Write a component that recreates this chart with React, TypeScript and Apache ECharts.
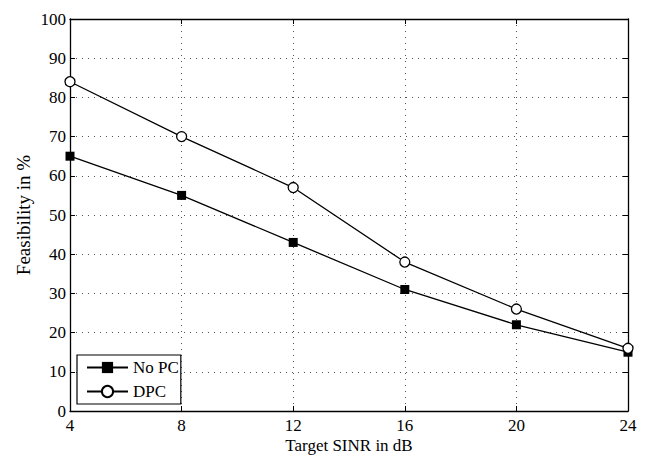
import React, { useEffect, useRef } from "react";
import * as echarts from "echarts";

const sinr = [4, 8, 12, 16, 20, 24];
const noPC = [65, 55, 43, 31, 22, 15];
const dpc = [84, 70, 57, 38, 26, 16];

const FONT = "'Times New Roman', 'Liberation Serif', Times, serif";

export default function App() {
  const ref = useRef<HTMLDivElement>(null);
  useEffect(() => {
    if (!ref.current) return;
    const chart = echarts.init(ref.current, undefined, { renderer: "svg" });
    const axisCommon = {
      type: "value" as const,
      axisLine: { show: true, onZero: false, lineStyle: { color: "#000", width: 1.3 } },
      axisTick: { show: true, inside: true, length: 5, lineStyle: { color: "#000" } },
      splitLine: { show: false },
    };
    const tickLabel = {
      fontFamily: FONT,
      fontSize: 17,
      color: "#000",
      formatter: "{t|{value}}",
      rich: { t: { fontFamily: FONT, fontSize: 17, color: "#000" } },
    };
    chart.setOption({
      animation: false,
      backgroundColor: "#fff",
      textStyle: { fontFamily: FONT },
      grid: {
        left: 70,
        top: 19,
        right: 25,
        bottom: 44,
        containLabel: false,
        outerBoundsMode: "none",
      },
      xAxis: [
        {
          ...axisCommon,
          position: "bottom",
          min: 4,
          max: 24,
          interval: 4,
          name: "Target SINR in dB",
          nameLocation: "middle",
          nameMoveOverlap: false,
          nameGap: 26,
          nameTextStyle: { fontFamily: FONT, fontSize: 17, color: "#000" },
          axisLabel: { ...tickLabel, margin: 6 },
          splitLine: { show: true, lineStyle: { color: "#555", type: [1, 5], width: 1 } },
        },
        {
          ...axisCommon,
          position: "top",
          min: 4,
          max: 24,
          interval: 4,
          axisLabel: { show: false },
        },
      ],
      yAxis: [
        {
          ...axisCommon,
          position: "left",
          min: 0,
          max: 100,
          interval: 10,
          name: "Feasibility in %",
          nameLocation: "middle",
          nameMoveOverlap: false,
          nameGap: 37,
          nameTextStyle: { fontFamily: FONT, fontSize: 19, color: "#000" },
          axisLabel: { ...tickLabel, margin: 4 },
          splitLine: { show: true, lineStyle: { color: "#555", type: [1, 5], width: 1 } },
        },
        {
          ...axisCommon,
          position: "right",
          min: 0,
          max: 100,
          interval: 10,
          axisLabel: { show: false },
        },
      ],
      legend: {
        left: 77,
        top: 355,
        orient: "vertical",
        backgroundColor: "#fff",
        borderColor: "#000",
        borderWidth: 1.2,
        borderRadius: 0,
        padding: [4, 2, 4, 9],
        itemWidth: 41,
        itemHeight: 14,
        itemGap: 7,
        textStyle: { fontFamily: FONT, fontSize: 17, color: "#000" },
        data: ["No PC", "DPC"],
      },
      series: [
        {
          name: "No PC",
          type: "line",
          data: sinr.map((x, i) => [x, noPC[i]]),
          symbol: "rect",
          symbolSize: 9,
          itemStyle: { color: "#000" },
          lineStyle: { color: "#000", width: 1.3 },
          z: 3,
        },
        {
          name: "DPC",
          type: "line",
          data: sinr.map((x, i) => [x, dpc[i]]),
          symbol: "circle",
          symbolSize: 10,
          showAllSymbol: true,
          itemStyle: { color: "#fff", borderColor: "#000", borderWidth: 1.3 },
          lineStyle: { color: "#000", width: 1.3 },
          z: 4,
        },
      ],
    });
    return () => chart.dispose();
  }, []);
  return <div ref={ref} style={{ width: 653, height: 455, position: "absolute", left: 0, top: 0 }} />;
}
